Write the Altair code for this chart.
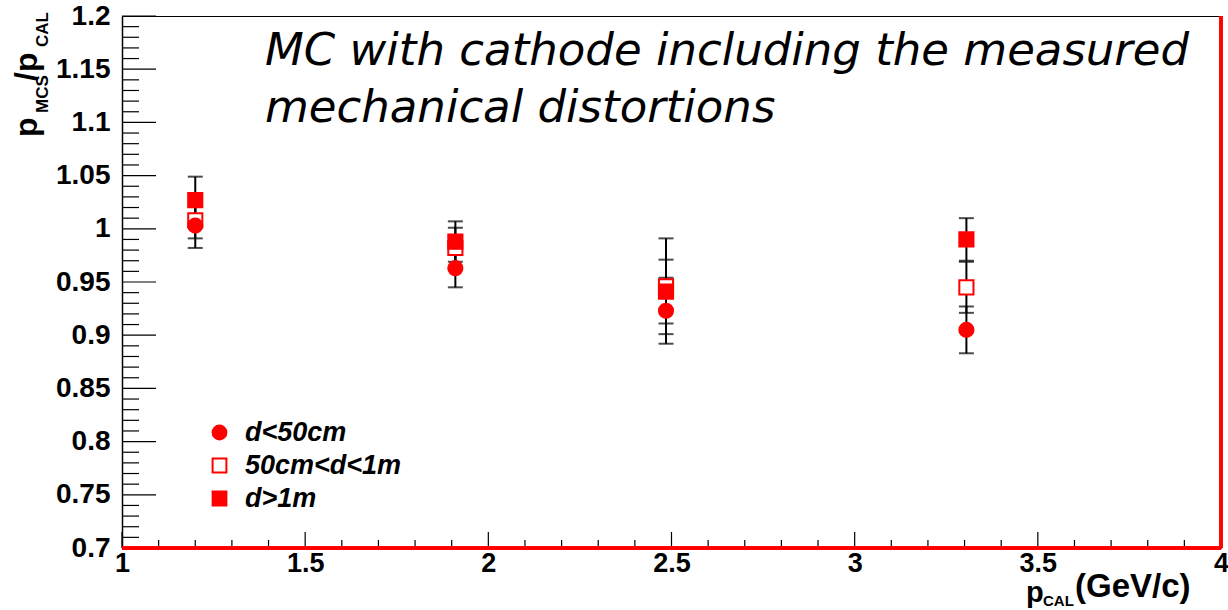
import altair as alt
import pandas as pd
import numpy as np

# ---- data ----
p_cal = [1.20, 1.91, 2.485, 3.305]
series_names = ["d<50cm", "50cm<d<1m", "d>1m"]
ratio_d_lt_50 = [1.003, 0.963, 0.923, 0.905]
err_d_lt_50 = [0.021, 0.018, 0.031, 0.022]
ratio_50_1m = [1.008, 0.982, 0.946, 0.945]
err_50_1m = [0.017, 0.019, 0.045, 0.024]
ratio_gt_1m = [1.027, 0.988, 0.941, 0.990]
err_gt_1m = [0.022, 0.019, 0.030, 0.020]

y_major = [0.7, 0.75, 0.8, 0.85, 0.9, 0.95, 1.0, 1.05, 1.1, 1.15, 1.2]
x_major = [1.0, 1.5, 2.0, 2.5, 3.0, 3.5, 4.0]

W, H = 1099, 532

rows = []
for name, vals, errs, order in [
    ("d<50cm", ratio_d_lt_50, err_d_lt_50, 2),
    ("50cm<d<1m", ratio_50_1m, err_50_1m, 0),
    ("d>1m", ratio_gt_1m, err_gt_1m, 1),
]:
    for x, v, e in zip(p_cal, vals, errs):
        rows.append({"p": x, "r": v, "lo": v - e, "hi": v + e, "series": name, "ord": order})
df = pd.DataFrame(rows)

y_minor = [round(v, 2) for v in np.arange(0.70, 1.2001, 0.01) if round(v, 2) not in [round(m, 2) for m in y_major]]
x_minor = [round(v, 1) for v in np.arange(1.0, 4.0001, 0.1) if round(v, 1) not in x_major]

xs = alt.Scale(domain=[1, 4], nice=False, zero=False)
ys = alt.Scale(domain=[0.7, 1.2], nice=False, zero=False)

FONT = "Liberation Sans"

base = alt.Chart(df)

xaxis = alt.Axis(values=x_major, format="~g", ticks=False, grid=False, domainColor="red", domainWidth=2,
                 labelFont=FONT, labelFontSize=27, labelFontWeight="bold", labelColor="black",
                 labelPadding=2, labelFlush=False, labelOverlap=False, title=None)
yaxis = alt.Axis(values=y_major, format="~g", ticks=False, grid=False, domainColor="black", domainWidth=1.5,
                 labelFont=FONT, labelFontSize=28, labelFontWeight="bold", labelColor="black",
                 labelPadding=12, labelFlush=False, labelOverlap=False, title=None)

err_rule = base.mark_rule(color="black", strokeWidth=2).encode(
    x=alt.X("p:Q", scale=xs, axis=xaxis), y=alt.Y("lo:Q", scale=ys, axis=yaxis), y2="hi:Q")
cap_lo = base.mark_tick(color="black", thickness=2, size=15, orient="horizontal").encode(
    x=alt.X("p:Q", scale=xs), y=alt.Y("lo:Q", scale=ys))
cap_hi = base.mark_tick(color="black", thickness=2, size=15, orient="horizontal").encode(
    x=alt.X("p:Q", scale=xs), y=alt.Y("hi:Q", scale=ys))

points = base.mark_point(filled=True, strokeWidth=2, opacity=1, size=200).encode(
    x=alt.X("p:Q", scale=xs),
    y=alt.Y("r:Q", scale=ys),
    shape=alt.Shape("series:N", scale=alt.Scale(domain=series_names, range=["circle", "square", "square"]),
                    legend=alt.Legend(title=None, orient="none", legendX=84, legendY=403, padding=0,
                                      labelFont=FONT, labelFontSize=27, labelFontWeight="bold",
                                      labelFontStyle="italic", labelColor="black", labelOffset=12,
                                      rowPadding=5, symbolSize=190, symbolStrokeColor="red",
                                      symbolStrokeWidth=2, symbolOpacity=1)),
    fill=alt.Fill("series:N", scale=alt.Scale(domain=series_names, range=["red", "white", "red"]), legend=None),
    stroke=alt.Stroke("series:N", scale=alt.Scale(domain=series_names, range=["red", "red", "red"]), legend=None),
    order=alt.Order("ord:Q"),
)

ymaj_df = pd.DataFrame({"v": y_major})
ymin_df = pd.DataFrame({"v": y_minor})
xmaj_df = pd.DataFrame({"v": x_major})
xmin_df = pd.DataFrame({"v": x_minor})

ytick_major = alt.Chart(ymaj_df).mark_rule(color="black", strokeWidth=1.2).encode(
    y=alt.Y("v:Q", scale=ys), x=alt.value(0), x2=alt.value(34))
ytick_minor = alt.Chart(ymin_df).mark_rule(color="black", strokeWidth=1.2).encode(
    y=alt.Y("v:Q", scale=ys), x=alt.value(0), x2=alt.value(17))
xtick_major = alt.Chart(xmaj_df).mark_rule(color="black", strokeWidth=1.2).encode(
    x=alt.X("v:Q", scale=xs), y=alt.value(H), y2=alt.value(H - 16))
xtick_minor = alt.Chart(xmin_df).mark_rule(color="black", strokeWidth=1.2).encode(
    x=alt.X("v:Q", scale=xs), y=alt.value(H), y2=alt.value(H - 8))

right_red = alt.Chart(ymaj_df).mark_rule(color="red", strokeWidth=2.5).encode(
    x=alt.value(W), y=alt.value(0), y2=alt.value(H))
bottom_red = alt.Chart(ymaj_df).mark_rule(color="red", strokeWidth=2.5).encode(
    y=alt.value(H), x=alt.value(0), x2=alt.value(W))

one = pd.DataFrame({"a": [0]})

title_txt = alt.Chart(one).mark_text(
    font="DejaVu Sans", fontSize=45, fontStyle="italic", align="left", baseline="alphabetic",
    lineHeight=57, color="black").encode(
    x=alt.value(143), y=alt.value(49),
    text=alt.value(["MC with cathode including the measured", "mechanical distortions"]))

# y axis title p_MCS/p_CAL (rotated)
def rtext(s, px, py, size):
    return alt.Chart(one).mark_text(font=FONT, fontSize=size, fontWeight="bold", angle=270,
                                    align="left", baseline="middle", color="black").encode(
        x=alt.value(px - 122), y=alt.value(py - 16), text=alt.value(s))

ytitle = [
    rtext("p", 27, 137, 32),
    rtext("MCS", 43, 113, 17),
    rtext("/p", 27, 81, 32),
    rtext("CAL", 43, 47, 17),
]

def htext(s, px, py, size):
    return alt.Chart(one).mark_text(font=FONT, fontSize=size, fontWeight="bold",
                                    align="left", baseline="middle", color="black").encode(
        x=alt.value(px - 122), y=alt.value(py - 16), text=alt.value(s))

xtitle = [
    htext("p", 1026, 593, 29),
    htext("CAL", 1043, 601, 15),
    htext("(GeV/c)", 1075, 587, 33),
]

chart = alt.layer(
    ytick_minor, ytick_major, xtick_minor, xtick_major,
    err_rule, cap_lo, cap_hi, points,
    bottom_red, right_red, title_txt, *ytitle, *xtitle,
).properties(
    width=W, height=H,
    autosize=alt.AutoSizeParams(type="none"),
    padding={"left": 122, "top": 16, "right": 7, "bottom": 62},
    background="white",
).configure_view(stroke="black", strokeWidth=1)

chart.save("out.html", embed_options={"renderer": "svg", "actions": False})
